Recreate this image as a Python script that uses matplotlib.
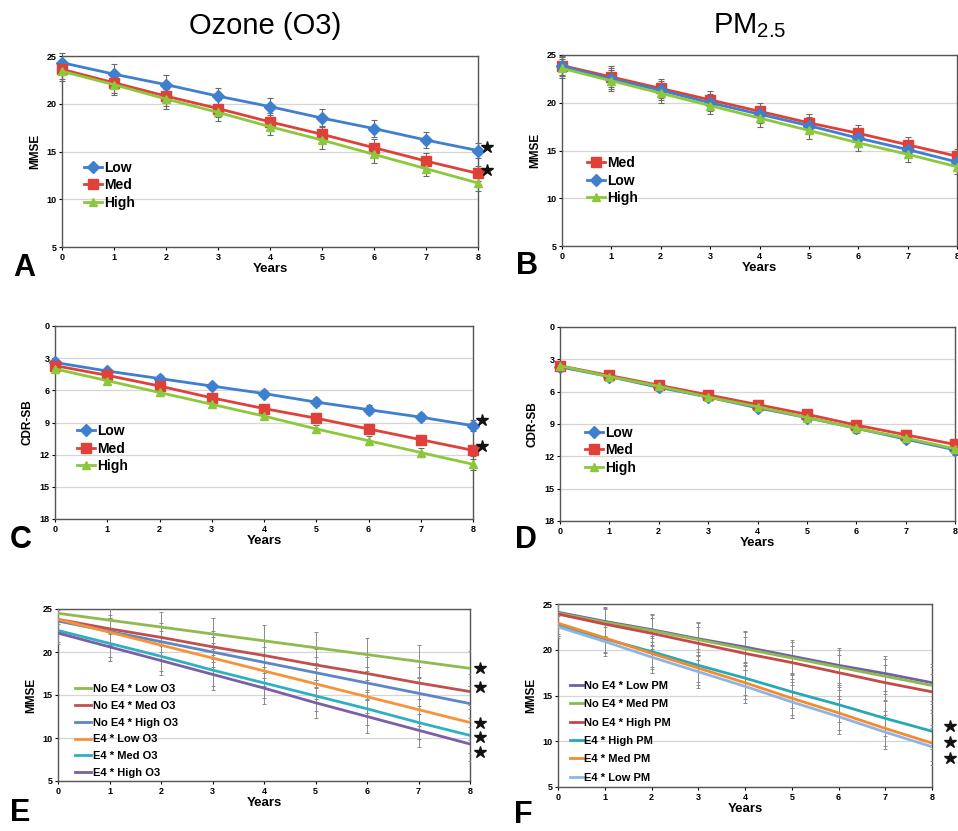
import numpy as np
import matplotlib
matplotlib.use("Agg")
import matplotlib.pyplot as plt

plt.rcParams.update({
    "font.family": ["Liberation Sans", "DejaVu Sans"],
    "mathtext.default": "regular",
})

# ---- data --------------------------------------------------------------------
YEARS = list(range(9))

# A: ozone, MMSE
A_LOW  = [24.3, 23.1, 22.0, 20.8, 19.7, 18.5, 17.4, 16.2, 15.1]
A_MED  = [23.6, 22.2, 20.8, 19.5, 18.1, 16.8, 15.4, 14.0, 12.7]
A_HIGH = [23.4, 22.0, 20.5, 19.1, 17.6, 16.2, 14.7, 13.2, 11.7]
A_ERR  = [1.0, 1.1, 1.0, 0.9, 0.9, 0.9, 0.9, 0.8, 0.8]
A_STARS = [15.5, 13.1]

# B: PM2.5, MMSE
B_MED  = [23.9, 22.7, 21.5, 20.3, 19.1, 17.9, 16.8, 15.6, 14.4]
B_LOW  = [23.8, 22.5, 21.3, 20.0, 18.8, 17.6, 16.3, 15.1, 13.8]
B_HIGH = [23.6, 22.3, 21.0, 19.7, 18.4, 17.1, 15.8, 14.6, 13.3]
B_ERR  = [1.0, 1.1, 1.0, 0.9, 0.9, 0.9, 0.9, 0.8, 0.8]

# C: ozone, CDR-SB
C_LOW  = [3.4, 4.2, 4.9, 5.6, 6.3, 7.1, 7.8, 8.5, 9.3]
C_MED  = [3.7, 4.6, 5.6, 6.7, 7.7, 8.6, 9.6, 10.6, 11.6]
C_HIGH = [4.0, 5.1, 6.2, 7.3, 8.4, 9.6, 10.7, 11.8, 12.9]
C_ERR  = [0.3, 0.3, 0.3, 0.3, 0.3, 0.4, 0.4, 0.4, 0.5]
C_STARS = [8.8, 11.2]

# D: PM2.5, CDR-SB
D_LOW  = [3.7, 4.6, 5.6, 6.5, 7.5, 8.4, 9.4, 10.4, 11.4]
D_MED  = [3.6, 4.5, 5.4, 6.3, 7.2, 8.1, 9.1, 10.0, 10.9]
D_HIGH = [3.6, 4.6, 5.5, 6.5, 7.4, 8.4, 9.4, 10.3, 11.3]
D_ERR  = [0.3, 0.3, 0.3, 0.3, 0.3, 0.4, 0.4, 0.4, 0.5]

# E: APOE4 x ozone, MMSE
E_LABELS = ["No E4 * Low O3", "No E4 * Med O3", "No E4 * High O3",
            "E4 * Low O3", "E4 * Med O3", "E4 * High O3"]
E_VALUES = [
    [24.5, 23.7, 22.9, 22.1, 21.3, 20.5, 19.7, 18.9, 18.1],
    [23.8, 22.7, 21.7, 20.6, 19.6, 18.5, 17.5, 16.4, 15.4],
    [23.6, 22.4, 21.2, 20.0, 18.8, 17.6, 16.4, 15.2, 14.0],
    [23.8, 22.3, 20.8, 19.3, 17.8, 16.3, 14.8, 13.3, 11.8],
    [22.5, 21.0, 19.5, 17.9, 16.4, 14.9, 13.4, 11.8, 10.3],
    [22.2, 20.6, 19.0, 17.4, 15.8, 14.1, 12.5, 10.9, 9.3],
]
E_ERR = [1.3, 1.6, 1.7, 1.8, 1.8, 1.8, 1.9, 1.9, 2.0]
E_STARS = [18.1, 15.9, 11.8, 10.1, 8.4]

# F: APOE4 x PM2.5, MMSE
F_LABELS = ["No E4 * Low PM", "No E4 * Med PM", "No E4 * High PM",
            "E4 * High PM", "E4 * Med PM", "E4 * Low PM"]
F_VALUES = [
    [24.1, 23.1, 22.2, 21.2, 20.3, 19.3, 18.3, 17.4, 16.4],
    [24.0, 23.0, 22.1, 21.1, 20.1, 19.1, 18.1, 17.1, 16.1],
    [23.9, 22.8, 21.8, 20.7, 19.6, 18.6, 17.5, 16.4, 15.4],
    [22.7, 21.2, 19.8, 18.3, 16.9, 15.4, 14.0, 12.5, 11.1],
    [22.9, 21.3, 19.6, 18.0, 16.4, 14.7, 13.1, 11.4, 9.8],
    [22.5, 20.9, 19.2, 17.6, 16.0, 14.3, 12.7, 11.0, 9.4],
]
F_ERR = [1.2, 1.6, 1.7, 1.8, 1.8, 1.8, 1.9, 1.9, 2.0]
F_STARS = [11.7, 9.9, 8.2]

# ---- styling -----------------------------------------------------------------
BLUE, RED, GREEN = "#3f7fcf", "#e0403a", "#8cc83c"
E_COLORS = ["#8dbb4c", "#c0504d", "#5b87c5", "#f7923a", "#2fb0c0", "#7c5ea6"]
F_COLORS = ["#7060a8", "#8fb850", "#c8484a", "#25aab5", "#f38a30", "#8fb4e3"]
EB = "#6a6a6a"
TICK_FS = 6.5
LAB_FS = 8.5

fig = plt.figure(figsize=(9.58, 8.31), dpi=100)
W, H = 958.0, 831.0

def make_ax(l, t, r, b):
    return fig.add_axes([l / W, 1 - b / H, (r - l) / W, (b - t) / H])

def style(ax, ylim, yticks, ylabel, invert=False):
    ax.set_xlim(0, 8)
    ax.set_ylim(*ylim)
    if invert:
        ax.invert_yaxis()
    ax.set_xticks(YEARS)
    ax.set_yticks(yticks)
    ax.tick_params(labelsize=TICK_FS, length=2, width=0.8, pad=2)
    for lab in ax.get_xticklabels() + ax.get_yticklabels():
        lab.set_fontweight("bold")
    ax.yaxis.grid(True, color="#d6d6d6", lw=0.9)
    ax.set_axisbelow(True)
    for sp in ax.spines.values():
        sp.set_color("#555555")
        sp.set_linewidth(1.0)
    ax.set_ylabel(ylabel, fontsize=LAB_FS, fontweight="bold", labelpad=4)
    ax.set_xlabel("Years", fontsize=LAB_FS + 1, fontweight="bold", labelpad=1)

def three(ax, series, err):
    lines = {}
    for vals, col, mk, lab in series:
        c = ax.errorbar(YEARS, vals, yerr=err, color=col, marker=mk,
                        ms=6.5 if mk == "s" else 6, lw=2.0, ecolor=EB,
                        elinewidth=0.8, capsize=2, capthick=0.8,
                        clip_on=False, zorder=3)
        lines[lab] = c.lines[0]
    return lines

def marker_legend(ax, lines, order, anchor):
    ax.legend([lines[o] for o in order], order, loc="upper left",
              bbox_to_anchor=anchor, frameon=False,
              handlelength=1.3, handletextpad=0.1, labelspacing=0.25,
              borderaxespad=0, prop={"weight": "bold", "size": 10})

def stars(ax, ys, x):
    ax.plot([x] * len(ys), ys, linestyle="none", marker="*", ms=9,
            color="#111111", mec="#111111", clip_on=False, zorder=5)

# ---- A -----------------------------------------------------------------------
axA = make_ax(62, 56, 478, 247)
ln = three(axA, [(A_LOW, BLUE, "D", "Low"), (A_MED, RED, "s", "Med"),
                 (A_HIGH, GREEN, "^", "High")], A_ERR)
style(axA, (5, 25), [5, 10, 15, 20, 25], "MMSE")
marker_legend(axA, ln, ["Low", "Med", "High"], (0.04, 0.48))
stars(axA, A_STARS, 8.18)

# ---- B -----------------------------------------------------------------------
axB = make_ax(562, 55, 957, 246)
ln = three(axB, [(B_MED, RED, "s", "Med"), (B_LOW, BLUE, "D", "Low"),
                 (B_HIGH, GREEN, "^", "High")], B_ERR)
style(axB, (5, 25), [5, 10, 15, 20, 25], "MMSE")
marker_legend(axB, ln, ["Med", "Low", "High"], (0.05, 0.50))

# ---- C -----------------------------------------------------------------------
axC = make_ax(55, 326, 473, 519)
ln = three(axC, [(C_LOW, BLUE, "D", "Low"), (C_MED, RED, "s", "Med"),
                 (C_HIGH, GREEN, "^", "High")], C_ERR)
style(axC, (0, 18), [0, 3, 6, 9, 12, 15, 18], "CDR-SB", invert=True)
marker_legend(axC, ln, ["Low", "Med", "High"], (0.04, 0.52))
stars(axC, C_STARS, 8.18)

# ---- D -----------------------------------------------------------------------
axD = make_ax(560, 327, 955, 521)
ln = three(axD, [(D_LOW, BLUE, "D", "Low"), (D_MED, RED, "s", "Med"),
                 (D_HIGH, GREEN, "^", "High")], D_ERR)
style(axD, (0, 18), [0, 3, 6, 9, 12, 15, 18], "CDR-SB", invert=True)
marker_legend(axD, ln, ["Low", "Med", "High"], (0.05, 0.52))

# ---- E -----------------------------------------------------------------------
axE = make_ax(58, 609, 470, 781)
for vals, col, lab in zip(E_VALUES, E_COLORS, E_LABELS):
    axE.errorbar(YEARS, vals, yerr=E_ERR, color=col, lw=2.0, ecolor="#8a8a8a",
                 elinewidth=0.7, capsize=1.5, capthick=0.7, zorder=3)
    axE.plot([], [], color=col, lw=2.0, label=lab)
style(axE, (5, 25), [5, 10, 15, 20, 25], "MMSE")
axE.legend(loc="lower left", bbox_to_anchor=(0.03, -0.01), frameon=False,
           handlelength=1.5, handletextpad=0.1, labelspacing=0.62, borderaxespad=0,
           prop={"weight": "bold", "size": 8})
stars(axE, E_STARS, 8.2)

# ---- F -----------------------------------------------------------------------
axF = make_ax(558, 604, 932, 787)
for vals, col, lab in zip(F_VALUES, F_COLORS, F_LABELS):
    axF.errorbar(YEARS, vals, yerr=F_ERR, color=col, lw=2.0, ecolor="#8a8a8a",
                 elinewidth=0.7, capsize=1.5, capthick=0.7, zorder=3)
    axF.plot([], [], color=col, lw=2.0, label=lab)
style(axF, (5, 25), [5, 10, 15, 20, 25], "MMSE")
axF.legend(loc="lower left", bbox_to_anchor=(0.02, 0.0), frameon=False,
           handlelength=1.2, handletextpad=0.1, labelspacing=0.75, borderaxespad=0,
           prop={"weight": "bold", "size": 8})
stars(axF, F_STARS, 8.38)

# ---- titles and panel letters ------------------------------------------------
fig.text(265 / W, 1 - 26 / H, "Ozone (O3)", fontsize=21, ha="center", va="center")
fig.text(750 / W, 1 - 26 / H, r"PM$_{2.5}$", fontsize=21, ha="center", va="center")
for letter, x, y in [("A", 24, 268), ("B", 527, 266), ("C", 21, 540),
                     ("D", 526, 540), ("E", 20, 813), ("F", 523, 815)]:
    fig.text(x / W, 1 - y / H, letter, fontsize=22, fontweight="bold",
             ha="center", va="center")

fig.savefig("out.png", dpi=100)
